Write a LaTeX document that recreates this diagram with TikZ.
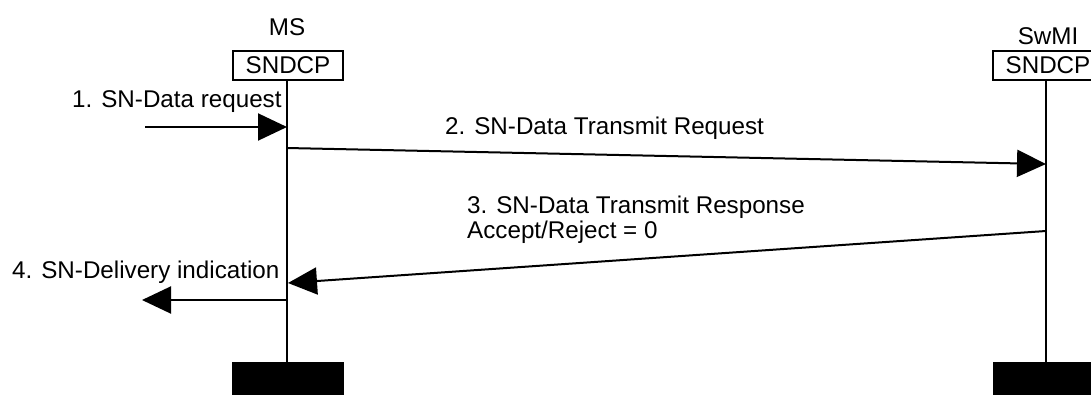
\documentclass[tikz,border=0pt]{standalone}
\usepackage{fontspec}
\setmainfont{Liberation Sans}
\usetikzlibrary{arrows.meta}
\begin{document}
\begin{tikzpicture}[x=1pt,y=-1pt,
  lbl/.style={font=\fontsize{24.2}{25}\selectfont, inner sep=0pt},
  entbox/.style={draw, line width=2pt, minimum width=110pt, minimum height=29pt, inner sep=0pt, font=\fontsize{24.2}{25}\selectfont},
  bar/.style={fill=black, draw=none, minimum width=112pt, minimum height=34pt, inner sep=0pt},
  life/.style={line width=2pt},
  msg/.style={line width=2pt, -{Triangle[length=29pt,width=27pt]}}]
\useasboundingbox (0,0) rectangle (1091,394);
\clip (0,0) rectangle (1091,394);
% entities
\node[lbl] (msl) at (287,27) {MS};
\node[lbl] (swl) at (1048,36) {SwMI};
\node[entbox] (msbox) at (288,65.5) {SNDCP};
\node[entbox] (swbox) at (1048,65.5) {SNDCP};
\node[bar] (msbar) at (288,379) {};
\node[bar] (swbar) at (1049,379) {};
% lifelines
\draw[life] (msbox.south -| 287,0) -- (msbar.north -| 287,0);
\draw[life] (swbox.south -| 1046,0) -- (swbar.north -| 1046,0);
% message points
\coordinate (a1s) at (145,127);
\coordinate (a1e) at (287,127);
\coordinate (a2s) at (287,148);
\coordinate (a2e) at (1046,164);
\coordinate (a3s) at (1046,231);
\coordinate (a3e) at (288,283);
\coordinate (a4s) at (287,300);
\coordinate (a4e) at (142,300);
\draw[msg] (a1s) -- (a1e);
\draw[msg] (a2s) -- (a2e);
\draw[msg] (a3s) -- (a3e);
\draw[msg] (a4s) -- (a4e);
% labels
\node[lbl, anchor=west] (t1) at (72,102) {1. SN-Data request};
\node[lbl, anchor=west] (t2) at (445,128) {2. SN-Data Transmit Request};
\node[lbl, anchor=west, align=left] (t3) at (467,220) {3. SN-Data Transmit Response\\Accept/Reject = 0};
\node[lbl, anchor=west] (t4) at (12,272) {4. SN-Delivery indication};
\end{tikzpicture}
\end{document}
